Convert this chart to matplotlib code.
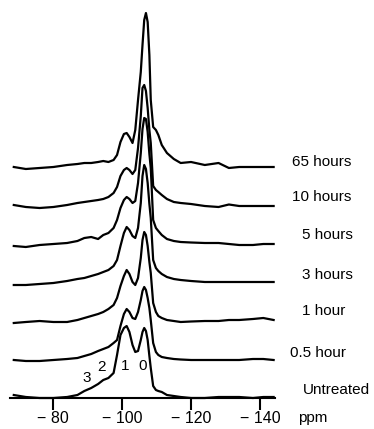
import numpy as np
import matplotlib
matplotlib.use("Agg")
import matplotlib.pyplot as plt

plt.rcParams['font.family'] = ['Liberation Sans', 'DejaVu Sans']

# chemical shift grid (ppm) shared by all spectra
ppm = [-68.5, -72, -76, -80, -84, -87, -89, -91, -93, -94.5, -96, -97.5, -98.5, -99.5,
       -100.5, -101.3, -102.1, -103, -103.8, -104.6, -105.4, -105.9, -106.4, -106.9,
       -107.4, -107.9, -108.3, -109, -109.8, -110.5, -111.5, -113, -115, -117, -120,
       -124, -128, -131, -134, -138, -141, -144]

# intensities (arbitrary units), bottom trace first
untreated = [3, 1, 0, 0, 1, 3, 7, 10, 14, 18, 20, 25, 43, 63, 70, 72, 66, 53, 46, 47,
             58, 66, 70, 67, 58, 42, 30, 12, 8, 7, 6, 3, 2, 1, 0, 0, 1, 1, 1, 0, 1, 1]
h05 = [0, -1, -1, 0, 1, 2, 4, 6, 9, 11, 13, 17, 20, 34, 46, 51, 48, 42, 41, 48,
       60, 69, 73, 70, 62, 52, 40, 17, 8, 5, 3, 2, 1, 0.5, 0, 0, 0, 0, 0, 1, 1, 0]
h1 = [-1, 0, 1, 0, 0, 2, 4, 6, 8, 10, 13, 17, 24, 36, 46, 52, 48, 40, 37, 44,
      64, 82, 90, 87, 76, 60, 49, 19, 10, 6, 4, 2, 1, 0, 0.5, 1, 1, 2, 2, 3, 4, 2]
h3 = [-1, -1, 0, 1, 3, 5, 6, 8, 10, 12, 14, 18, 24, 38, 51, 57, 54, 48, 46, 56,
      81, 108, 119, 115, 101, 80, 66, 24, 16, 13, 10, 7, 5, 4, 3, 2, 2, 2, 2, 2, 2, 2]
h5 = [0, -1, 1, 2, 3, 5, 8, 9, 7, 11, 13, 18, 26, 38, 46, 49, 47, 43, 45, 63,
      93, 117, 128, 127, 114, 92, 78, 26, 18, 15, 11, 7, 5, 4, 3.5, 3, 3, 2, 1, 1, 2, 2]
h10 = [3, 1, 0, 1, 3, 5, 6, 7, 8, 9, 11, 15, 21, 32, 38, 40, 38, 34, 38, 60,
       92, 120, 123, 117, 100, 78, 65, 22, 18, 16, 13, 9, 6, 5, 4, 2, 1, 3.5, 2, 2, 2, 2]
h65 = [3, 1, 2, 3, 5, 6, 7, 7, 8, 9, 8, 10, 15, 28, 36, 37, 33, 27, 40, 70,
       98, 125, 150, 157, 148, 115, 70, 43, 40, 35, 25, 17, 11, 7, 8, 5, 7, 2, 3, 3, 3, 3]

spectra = [untreated, h05, h1, h3, h5, h10, h65]
labels = ['Untreated', '0.5 hour', '1 hour', '3 hours', '5 hours', '10 hours', '65 hours']

ticks = [-80, -100, -120, -140]
tick_labels = ['\u2212 %d' % abs(t) for t in ticks]

peak_names = ['3', '2', '1', '0']
peak_pos = [-89.8, -94.1, -100.8, -106.0]

W, H = 374, 429
fig = plt.figure(figsize=(W/100, H/100), dpi=100)
ax = fig.add_axes([10/W, 31/H, 265/W, 398/H])

step = 38
for i in range(len(spectra)):
    y = np.array(spectra[i]) + i*step
    ax.plot(ppm, y, color='black', lw=1.6, solid_joinstyle='round', clip_on=False)

# label positions (px from left / from top of the figure)
lab_x = [303, 290, 302, 302, 302, 292, 292]
lab_y = [390, 353, 311, 275, 235, 197, 162]
for i in range(len(labels)):
    fig.text(lab_x[i]/W, 1 - lab_y[i]/H, labels[i], fontsize=11, ha='left', va='center')

peak_y = [20, 31, 32, 32]
for i in range(len(peak_names)):
    ax.text(peak_pos[i], peak_y[i], peak_names[i], fontsize=11, ha='center', va='center')

ax.set_xlim(-67.4, -144.4)
ax.set_ylim(0, 398)
ax.set_xticks(ticks)
ax.set_xticklabels(tick_labels, fontsize=11.5)
ax.tick_params(axis='x', direction='out', length=8.5, width=1.5, pad=1)
ax.set_yticks([])
for s in ['left', 'right', 'top']:
    ax.spines[s].set_visible(False)
ax.spines['bottom'].set_linewidth(1.5)
ax.patch.set_alpha(0)

fig.text(298/W, 1 - 418/H, 'ppm', fontsize=11, ha='left', va='center')

fig.savefig('out.png', dpi=100)
